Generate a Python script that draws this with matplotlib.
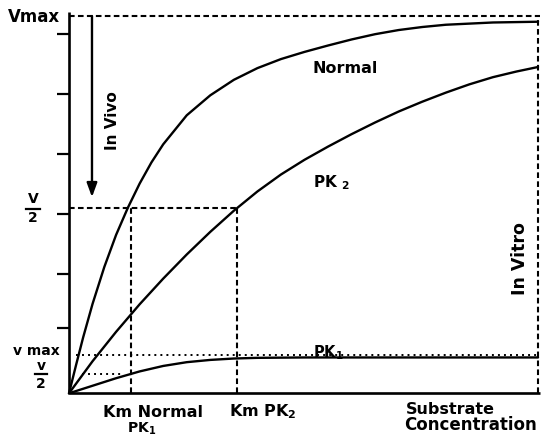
import matplotlib
matplotlib.use('Agg')
import matplotlib.pyplot as plt

# ---- data (x: substrate, y: velocity, Vmax = 1) ----
normal_s = [0, 0.15, 0.3, 0.5, 0.75, 1.0, 1.25, 1.5, 1.75, 2.0, 2.5, 3.0, 3.5, 4.0,
            4.5, 5.0, 5.5, 6.0, 6.5, 7.0, 7.5, 8.0, 9.0, 9.958]
normal_v = [0, 0.075, 0.148, 0.237, 0.335, 0.420, 0.492, 0.556, 0.612, 0.660, 0.737,
            0.790, 0.831, 0.862, 0.886, 0.905, 0.922, 0.938, 0.952, 0.963, 0.971,
            0.977, 0.983, 0.985]

pk2_s = [0, 0.5, 1.0, 1.5, 2.0, 2.5, 3.0, 3.5, 4.0, 4.5, 5.0, 5.5, 6.0, 6.5, 7.0,
         7.5, 8.0, 8.5, 9.0, 9.5, 9.958]
pk2_v = [0, 0.085, 0.163, 0.236, 0.304, 0.368, 0.428, 0.484, 0.535, 0.580, 0.619,
         0.654, 0.687, 0.718, 0.747, 0.773, 0.797, 0.819, 0.838, 0.853, 0.865]

pk1_s = [0, 0.5, 1.0, 1.5, 2.0, 2.5, 3.0, 3.5, 4.0, 5.0, 6.0, 9.958]
pk1_v = [0, 0.020, 0.040, 0.058, 0.0725, 0.0825, 0.0885, 0.0922, 0.0940, 0.0950,
         0.0950, 0.0950]

vmax = 1.0
v_half = 0.4924
km_normal = 1.31
km_pk2 = 3.561
in_vitro_s = 9.958
pk1_vmax = 0.1015
pk1_vhalf = 0.051
pk1_vmax_start = 0.15
pk1_vhalf_span = [0.27, 1.12]
x_max = 10.0
ytick_pos = [0.952, 0.793, 0.634, 0.475, 0.316, 0.172]

plt.rcParams['font.family'] = ['DejaVu Sans']
plt.rcParams['font.weight'] = 'bold'
plt.rcParams['mathtext.fontset'] = 'custom'
plt.rcParams['mathtext.rm'] = 'DejaVu Sans:bold'
plt.rcParams['mathtext.bf'] = 'DejaVu Sans:bold'
plt.rcParams['mathtext.it'] = 'DejaVu Sans:bold'

fig = plt.figure(figsize=(5.42, 4.36), dpi=100)
ax = fig.add_axes([69 / 542, 42.7 / 436, 471 / 542, 381 / 436])
ax.set_xlim(0, x_max)
ax.set_ylim(0, 1.01)
for s in ['top', 'right']:
    ax.spines[s].set_visible(False)
for s in ['left', 'bottom']:
    ax.spines[s].set_linewidth(1.9)
    ax.spines[s].set_capstyle('butt')
ax.set_xticks([])
ax.set_yticks(ytick_pos)
ax.set_yticklabels([])
ax.tick_params(axis='y', direction='out', length=9, width=1.6)

lw = 1.7
ckw = dict(color='black', lw=lw, clip_on=False, solid_joinstyle='round',
           solid_capstyle='round')
ax.plot(normal_s, normal_v, **ckw)
ax.plot(pk2_s, pk2_v, **ckw)
ax.plot(pk1_s, pk1_v, **ckw)

dash = (0, (2.7, 1.6))
dot = (0, (1, 2.1))
dkw = dict(color='black', lw=1.5, clip_on=False)
ax.plot([0, x_max], [vmax, vmax], ls=dash, **dkw)
ax.plot([0, km_pk2], [v_half, v_half], ls=dash, **dkw)
ax.plot([km_normal, km_normal], [0, v_half], ls=dash, **dkw)
ax.plot([km_pk2, km_pk2], [0, v_half], ls=dash, **dkw)
ax.plot([in_vitro_s, in_vitro_s], [0, vmax], ls=dash, **dkw)
okw = dict(color='black', lw=1.4, clip_on=False)
ax.plot([pk1_vmax_start, in_vitro_s], [pk1_vmax, pk1_vmax], ls=dot, **okw)
ax.plot(pk1_vhalf_span, [pk1_vhalf, pk1_vhalf], ls=dot, **okw)

# In vivo arrow
ax.annotate('', xy=(0.488, 0.52), xytext=(0.488, vmax),
            arrowprops=dict(arrowstyle='-|>,head_length=0.6,head_width=0.22',
                            lw=1.7, color='black', mutation_scale=14,
                            shrinkA=0, shrinkB=0))

tk = dict(color='black', fontweight='bold')
ax.text(0.934, 0.724, 'In Vivo', rotation=90, ha='center', va='center', fontsize=11, **tk)
ax.text(9.575, 0.358, 'In Vitro', rotation=90, ha='center', va='center', fontsize=12.5, **tk)
ax.text(5.18, 0.848, 'Normal', ha='left', va='baseline', fontsize=11.5, **tk)
ax.text(5.18, 0.546, r'PK $_2$', ha='left', va='baseline', fontsize=11, **tk)
ax.text(5.18, 0.0955, r'PK$_1$', ha='left', va='baseline', fontsize=10.5, **tk)

# x-axis labels
ax.text(1.78, -0.062, 'Km Normal', ha='center', va='baseline', fontsize=11.5, **tk)
ax.text(1.55, -0.1045, r'PK$_1$', ha='center', va='baseline', fontsize=10, **tk)
ax.text(3.40, -0.062, r'Km PK$_2$', ha='left', va='baseline', fontsize=11.5, **tk)
ax.text(8.09, -0.056, 'Substrate', ha='center', va='baseline', fontsize=11.5, **tk)
ax.text(8.535, -0.0985, 'Concentration', ha='center', va='baseline', fontsize=12, **tk)

# y-axis labels
ax.text(-0.191, 0.984, 'Vmax', ha='right', va='baseline', fontsize=12, **tk)
ax.text(-0.764, 0.504, 'V', ha='center', va='baseline', fontsize=10, **tk)
ax.plot([-0.92, -0.62], [0.4895, 0.4895], color='black', lw=1.6, clip_on=False)
ax.text(-0.764, 0.4536, '2', ha='center', va='baseline', fontsize=10, **tk)

ax.text(-0.191, 0.1008, 'v max', ha='right', va='baseline', fontsize=10, **tk)
ax.text(-0.594, 0.061, 'v', ha='center', va='baseline', fontsize=10, **tk)
ax.plot([-0.72, -0.47], [0.0504, 0.0504], color='black', lw=1.6, clip_on=False)
ax.text(-0.594, 0.015, '2', ha='center', va='baseline', fontsize=10, **tk)

fig.savefig('out.png', dpi=100)
